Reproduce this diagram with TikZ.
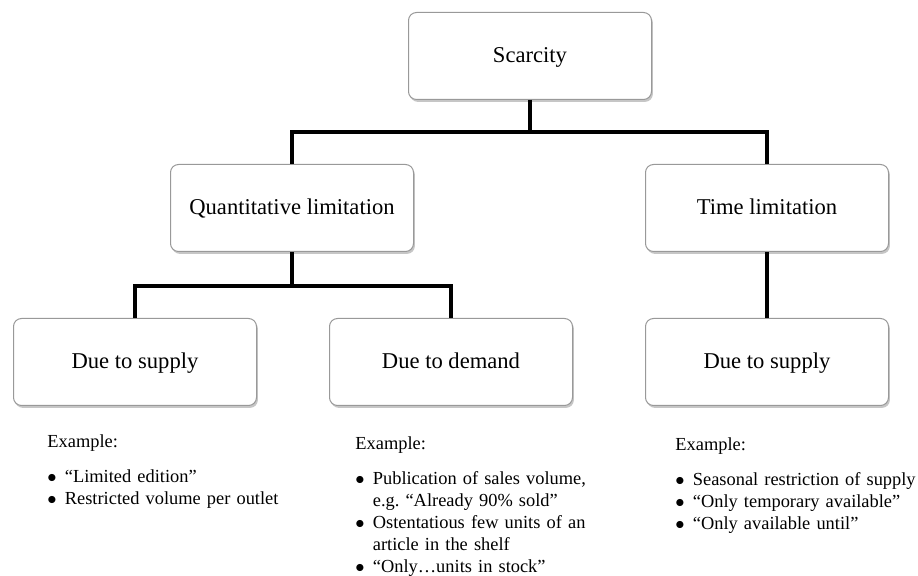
\documentclass[tikz,border=0pt]{standalone}
\usepackage{fontspec}
\setmainfont{Liberation Serif}
\usetikzlibrary{shadows}

% one bullet line with hanging indent
\newcommand{\bitem}[1]{\par\hangindent=0.95em\hangafter=1\noindent\makebox[0.95em][l]{$\bullet$}#1}

\begin{document}
\frenchspacing
\begin{tikzpicture}[x=0.5pt, y=-0.5pt,
    box/.style={draw=black!40, line width=0.5pt, rounded corners=4pt, fill=white,
        minimum width=121.5pt, minimum height=43.5pt,
        text height=0.8em, text depth=0.18em,
        font=\fontsize{11.3}{13.5}\selectfont,
        drop shadow={shadow xshift=0.7pt, shadow yshift=-1.2pt, fill=black!50, opacity=0.45}},
    link/.style={line width=1.7pt},
    examples/.style={anchor=north west, inner sep=0pt, text width=150pt, align=left,
        font=\fontsize{9.2}{11}\selectfont}]
    \useasboundingbox (0,0) rectangle (918,576);

    % draw boxes
    \node[box] (scar) at (530,56) {Scarcity};
    \node[box] (quant) at (292,208) {Quantitative limitation};
    \node[box] (time) at (767,208) {Time limitation};
    \node[box] (suppl) at (135,362) {Due to supply};
    \node[box] (dem) at (451,362) {Due to demand};
    \node[box] (suppr) at (767,362) {Due to supply};

    % draw connectors
    \coordinate (j1) at (530,132);
    \coordinate (j2) at (292,286);
    \draw[link] (scar.south) -- (j1);
    \draw[link] (quant.north) |- (j1) -| (time.north);
    \draw[link] (quant.south) -- (j2);
    \draw[link] (suppl.north) |- (j2) -| (dem.north);
    \draw[link] (time.south) -- (suppr.north);

    % draw examples
    \node[examples] (exl) at (47,434) {\noindent Example:\par\vspace{6.5pt}
        \bitem{“Limited edition”}
        \bitem{Restricted volume per outlet}};
    \node[examples] (exm) at (355,436) {\noindent Example:\par\vspace{6.5pt}
        \bitem{Publication of sales volume,\newline e.g. “Already 90\% sold”}
        \bitem{Ostentatious few units of an\newline article in the shelf}
        \bitem{“Only…units in stock”}};
    \node[examples] (exr) at (675,437) {\noindent Example:\par\vspace{6.5pt}
        \bitem{Seasonal restriction of supply}
        \bitem{“Only temporary available”}
        \bitem{“Only available until”}};

\end{tikzpicture}
\end{document}
